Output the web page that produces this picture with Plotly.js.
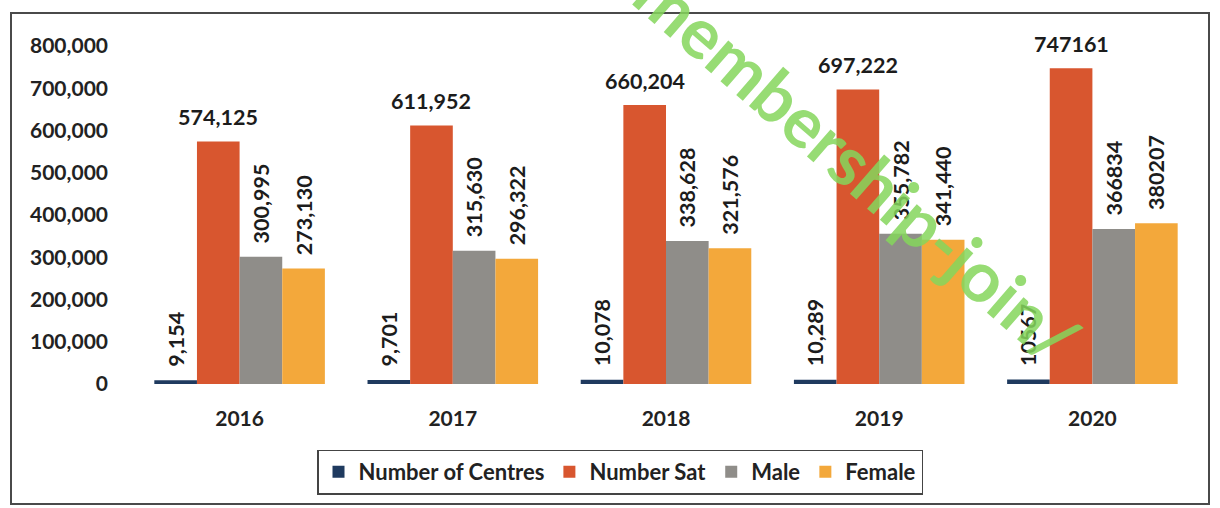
<!DOCTYPE html>
<html>
<head>
<meta charset="utf-8">
<script src="https://cdn.plot.ly/plotly-3.0.1.min.js"></script>
<style>
  html, body { margin: 0; padding: 0; background: #ffffff; }
  #frame { position: absolute; left: 10px; top: 12px; width: 1200px; height: 493px; border: 2px solid #4a4a4a; box-sizing: border-box; }
  #chart { position: absolute; left: 0; top: 0; width: 1220px; height: 508px; }
</style>
</head>
<body>
<div id="frame"></div>
<div id="chart"></div>
<script>
// ---- data ----
const years = ['2016', '2017', '2018', '2019', '2020'];
const centres = [9154, 9701, 10078, 10289, 10567];
const numberSat = [574125, 611952, 660204, 697222, 747161];
const male = [300995, 315630, 338628, 355782, 366834];
const female = [273130, 296322, 321576, 341440, 380207];
const useThousandsSep = [true, true, true, true, false];
const yTickVals = [0, 100000, 200000, 300000, 400000, 500000, 600000, 700000, 800000];
const yTickText = ['0', '100,000', '200,000', '300,000', '400,000', '500,000', '600,000', '700,000', '800,000'];

function fmt(v, i) {
  return useThousandsSep[i] ? v.toLocaleString('en-US') : String(v);
}

const W = 1220, H = 508;
const margin = { l: 133, r: 21, t: 46, b: 124 };
const plotW = W - margin.l - margin.r, plotH = H - margin.t - margin.b;
const bargap = 0.2;
const nSeries = 4;

const pad = '\u00a0\u00a0';
const FONT = 'Lato, sans-serif';
const labelFont = { family: FONT, size: 21.5, color: '#1c1c1c', weight: 'bold' };

function series(name, values, color, withText) {
  return {
    type: 'bar',
    name: name,
    x: years,
    y: values,
    marker: { color: color, line: { width: 0 } },
    text: withText ? values.map((v, i) => pad + fmt(v, i)) : values.map(() => ''),
    textposition: 'outside',
    textangle: -90,
    constraintext: 'none',
    cliponaxis: false,
    textfont: labelFont,
    hoverinfo: 'x+y+name'
  };
}

const data = [
  series('Number of Centres', centres, '#1f3a5f', true),
  series('Number Sat', numberSat, '#d8562f', false),
  series('Male', male, '#8f8d89', true),
  series('Female', female, '#f3a83b', true)
];

// horizontal labels above the "Number Sat" bars (second bar of each group)
const satOffset = (1 - bargap) * ((1 + 0.5) / nSeries - 0.5);
const satLabels = numberSat.map((v, i) => ({
  x: i + satOffset, y: v, xref: 'x', yref: 'y',
  xanchor: 'center',
  text: fmt(v, i),
  showarrow: false,
  yanchor: 'bottom',
  yshift: 9,
  font: labelFont
}));

const layout = {
  width: W,
  height: H,
  margin: margin,
  paper_bgcolor: 'rgba(0,0,0,0)',
  plot_bgcolor: 'rgba(0,0,0,0)',
  font: { family: FONT, size: 21, color: '#222' },
  barmode: 'group',
  bargap: bargap,
  bargroupgap: 0,
  showlegend: true,
  legend: {
    orientation: 'h',
    x: (620 - margin.l) / plotW, xanchor: 'center',
    y: (H - margin.b - 472) / plotH, yanchor: 'middle',
    bordercolor: '#444', borderwidth: 1.5,
    bgcolor: 'rgba(255,255,255,0)',
    font: { family: FONT, size: 22, color: '#222', weight: 'bold' },
    itemwidth: 30
  },
  xaxis: {
    type: 'category',
    range: [-0.5, years.length - 0.5],
    showline: false, showgrid: false, zeroline: false,
    ticks: '', ticklabelstandoff: 20,
    tickfont: { family: FONT, size: 21, color: '#222', weight: 'bold' }
  },
  yaxis: {
    range: [0, 800000],
    tickvals: yTickVals, ticktext: yTickText,
    showline: false, showgrid: false, zeroline: false,
    ticks: '', ticklabelstandoff: 24,
    tickfont: { family: FONT, size: 21, color: '#222', weight: 'bold' }
  },
  annotations: satLabels.concat([{
    text: 'membership-join/',
    xref: 'paper', yref: 'paper',
    x: (858 - margin.l) / plotW,
    y: (H - margin.b - 165) / plotH,
    xanchor: 'center', yanchor: 'middle',
    showarrow: false,
    textangle: 41,
    font: { family: FONT, size: 70, color: '#85d65c', weight: 'bold' },
    opacity: 0.85
  }])
};

Plotly.newPlot('chart', data, layout, { displayModeBar: false, staticPlot: true });
</script>
</body>
</html>
